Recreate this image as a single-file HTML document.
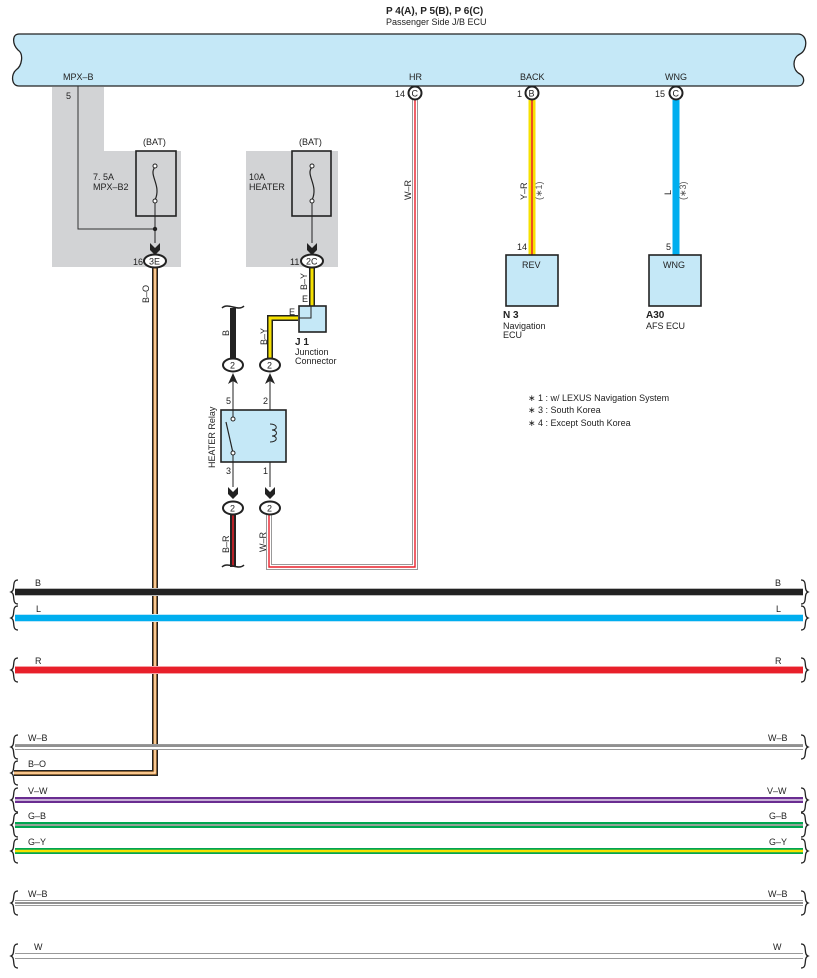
<!DOCTYPE html>
<html><head><meta charset="utf-8"><style>
html,body{margin:0;padding:0;background:#fff;}
svg{display:block;font-family:"Liberation Sans",sans-serif;}
text{font-size:9px;fill:#222;}
</style></head><body>
<svg width="817" height="978" viewBox="0 0 817 978" xmlns="http://www.w3.org/2000/svg">
<defs>
<marker id="a" viewBox="0 0 10 10" refX="5" refY="10" markerWidth="10" markerHeight="10" orient="auto"><path d="M0,0 L5,4 L10,0 L10,6 L5,10 L0,6Z" fill="#222"/></marker>
</defs>
<!-- title -->
<text x="386" y="14" style="font-weight:bold;font-size:10px">P 4(A), P 5(B), P 6(C)</text>
<text x="386" y="25">Passenger Side J/B ECU</text>
<!-- top bar -->
<path d="M19,34 L798,34 C808,34 808,50 800,54 C792,58 792,70 800,74 C806,78 804,86 798,86 L19,86 C11,86 11,74 16,70 C22,66 24,54 18,50 C12,44 12,34 19,34Z" fill="#c5e8f7" stroke="#222" stroke-width="1.3"/>
<text x="63" y="80">MPX–B</text>
<text x="409" y="80">HR</text>
<text x="520" y="80">BACK</text>
<text x="665" y="80">WNG</text>
<!-- gray regions -->
<path d="M52,87 L104,87 L104,151 L181,151 L181,267 L52,267Z" fill="#d2d3d5"/>
<rect x="246" y="151" width="92" height="116" fill="#d2d3d5"/>
<text x="66" y="99">5</text>
<!-- fuses -->
<text x="143" y="145">(BAT)</text>
<rect x="136" y="151" width="40" height="65" fill="none" stroke="#222" stroke-width="1.6"/>
<path d="M155,167 C148,175 162,185 155,200" fill="none" stroke="#222" stroke-width="1.2"/>
<circle cx="155" cy="166" r="2" fill="#fff" stroke="#222"/><circle cx="155" cy="201" r="2" fill="#fff" stroke="#222"/>
<text x="93" y="180">7. 5A</text><text x="93" y="190">MPX–B2</text>
<text x="299" y="145">(BAT)</text>
<rect x="292" y="151" width="39" height="65" fill="none" stroke="#222" stroke-width="1.6"/>
<path d="M312,167 C305,175 319,185 312,200" fill="none" stroke="#222" stroke-width="1.2"/>
<circle cx="312" cy="166" r="2" fill="#fff" stroke="#222"/><circle cx="312" cy="201" r="2" fill="#fff" stroke="#222"/>
<text x="249" y="180">10A</text><text x="249" y="190">HEATER</text>
<path d="M78,86 L78,229 L155,229" fill="none" stroke="#333" stroke-width="1"/>
<circle cx="155" cy="229" r="2.2" fill="#222"/>
<line x1="155" y1="203" x2="155" y2="243" stroke="#222" stroke-width="1"/>
<path d="M150,243 L155,248 L160,243 L160,250 L155,255 L150,250Z" fill="#222"/>
<line x1="312" y1="203" x2="312" y2="243" stroke="#222" stroke-width="1"/>
<path d="M307,243 L312,248 L317,243 L317,250 L312,255 L307,250Z" fill="#222"/>
<!-- B-O wire -->
<path d="M155,268 L155,773 L14,773" fill="none" stroke="#222" stroke-width="6"/>
<path d="M155,268 L155,773 L14,773" fill="none" stroke="#f7a54a" stroke-width="3"/>
<path d="M155,268 L155,773 L14,773" fill="none" stroke="#fff" stroke-width="0.8"/>
<ellipse cx="155" cy="261" rx="11" ry="6.5" fill="#fff" stroke="#222" stroke-width="2"/>
<text x="149" y="264.5">3E</text><text x="133" y="265">16</text>
<text transform="translate(149,303) rotate(-90)">B–O</text>
<!-- B-Y wire -->
<path d="M312,268 L312,310 M298,318 L270,318 L270,358" fill="none" stroke="#222" stroke-width="6"/>
<path d="M312,268 L312,310 M298,318 L270,318 L270,358" fill="none" stroke="#f6e100" stroke-width="3"/>
<ellipse cx="312" cy="261" rx="11" ry="6.5" fill="#fff" stroke="#222" stroke-width="2"/>
<text x="306" y="264.5">2C</text><text x="290" y="265">11</text>
<text transform="translate(307,290) rotate(-90)">B–Y</text>
<text x="302" y="302">E</text><text x="289" y="315">E</text>
<text transform="translate(267,345) rotate(-90)">B–Y</text>
<rect x="299" y="306" width="27" height="26" fill="#c5e8f7" stroke="#222" stroke-width="1.6"/>
<path d="M299,318 L311,318 L311,306" fill="none" stroke="#222" stroke-width="1"/>
<text x="295" y="345" style="font-weight:bold;font-size:10px">J 1</text>
<text x="295" y="355">Junction</text><text x="295" y="364">Connector</text>
<!-- B thick -->
<line x1="233" y1="308" x2="233" y2="358" stroke="#222" stroke-width="6"/>
<path d="M222,308 C228,302 238,312 244,306" fill="none" stroke="#222" stroke-width="1.5"/>
<text transform="translate(229,336) rotate(-90)">B</text>
<ellipse cx="233" cy="365" rx="10" ry="6.5" fill="#fff" stroke="#222" stroke-width="2"/><text x="230" y="368.5">2</text>
<ellipse cx="270" cy="365" rx="10" ry="6.5" fill="#fff" stroke="#222" stroke-width="2"/><text x="267" y="368.5">2</text>
<path d="M228,384 L233,373 L238,384 L233,381Z M265,384 L270,373 L275,384 L270,381Z" fill="#222"/>
<line x1="233" y1="380" x2="233" y2="487" stroke="#222"/><line x1="270" y1="380" x2="270" y2="487" stroke="#222"/>
<!-- relay -->
<rect x="221" y="410" width="65" height="52" fill="#c5e8f7" stroke="#222" stroke-width="1.6"/>
<line x1="233" y1="410" x2="233" y2="419" stroke="#222"/><line x1="233" y1="453" x2="233" y2="462" stroke="#222"/>
<rect x="231" y="418" width="0" height="0"/>
<line x1="226" y1="422" x2="233" y2="453" stroke="#222" stroke-width="1.2"/>
<circle cx="233" cy="419" r="2" fill="#fff" stroke="#222"/><circle cx="233" cy="453" r="2" fill="#fff" stroke="#222"/>
<path d="M270,424 C278,424 278,430 272,430 C278,430 278,436 272,436 C278,436 278,442 270,442" fill="#c5e8f7" stroke="#222"/>
<text x="226" y="404">5</text><text x="263" y="404">2</text><text x="226" y="474">3</text><text x="263" y="474">1</text>
<text transform="translate(215,468) rotate(-90)">HEATER Relay</text>
<path d="M228,487 L233,492 L238,487 L238,494 L233,499 L228,494Z M265,487 L270,492 L275,487 L275,494 L270,499 L265,494Z" fill="#222"/>
<!-- W-R wire -->
<path d="M415,100 L415,567 L269,567 L269,515" fill="none" stroke="#999" stroke-width="6"/>
<path d="M415,100 L415,567 L269,567 L269,515" fill="none" stroke="#fff" stroke-width="4"/>
<path d="M415,100 L415,567 L269,567 L269,515" fill="none" stroke="#e8202a" stroke-width="1.4"/>
<text transform="translate(411,200) rotate(-90)">W–R</text>
<text transform="translate(266,552) rotate(-90)">W–R</text>
<!-- B-R -->
<line x1="233" y1="515" x2="233" y2="567" stroke="#222" stroke-width="6"/>
<line x1="233" y1="515" x2="233" y2="567" stroke="#e8202a" stroke-width="1.5"/>
<path d="M222,567 C228,561 238,571 244,565" fill="none" stroke="#222" stroke-width="1.5"/>
<text transform="translate(229,553) rotate(-90)">B–R</text>
<ellipse cx="233" cy="508" rx="10" ry="6.5" fill="#fff" stroke="#222" stroke-width="2"/><text x="230" y="511.5">2</text>
<ellipse cx="270" cy="508" rx="10" ry="6.5" fill="#fff" stroke="#222" stroke-width="2"/><text x="267" y="511.5">2</text>
<!-- HR connector -->
<circle cx="415" cy="93" r="6.5" fill="#fff" stroke="#222" stroke-width="2"/><text x="411.5" y="96.5">C</text><text x="395" y="97">14</text>
<!-- BACK -->
<line x1="532" y1="100" x2="532" y2="255" stroke="#f6e100" stroke-width="7"/>
<line x1="532" y1="100" x2="532" y2="255" stroke="#e8202a" stroke-width="1.5"/>
<circle cx="532" cy="93" r="6.5" fill="#fff" stroke="#222" stroke-width="2"/><text x="528.5" y="96.5">B</text><text x="517" y="97">1</text>
<text transform="translate(527,200) rotate(-90)">Y–R</text>
<text transform="translate(542,200) rotate(-90)" style="fill:#555">(∗1)</text>
<text x="517" y="250">14</text>
<rect x="506" y="255" width="52" height="51" fill="#c5e8f7" stroke="#222" stroke-width="1.6"/>
<text x="522" y="268">REV</text>
<text x="503" y="318" style="font-weight:bold;font-size:10px">N 3</text>
<text x="503" y="329">Navigation</text><text x="503" y="338">ECU</text>
<!-- WNG -->
<line x1="676" y1="100" x2="676" y2="255" stroke="#00aeef" stroke-width="7"/>
<circle cx="676" cy="93" r="6.5" fill="#fff" stroke="#222" stroke-width="2"/><text x="672.5" y="96.5">C</text><text x="655" y="97">15</text>
<text transform="translate(671,195) rotate(-90)">L</text>
<text transform="translate(686,200) rotate(-90)" style="fill:#555">(∗3)</text>
<text x="666" y="250">5</text>
<rect x="649" y="255" width="52" height="51" fill="#c5e8f7" stroke="#222" stroke-width="1.6"/>
<text x="663" y="268">WNG</text>
<text x="646" y="318" style="font-weight:bold;font-size:10px">A30</text>
<text x="646" y="329">AFS ECU</text>
<!-- notes -->
<text x="528" y="401">∗ 1 : w/ LEXUS Navigation System</text>
<text x="528" y="413">∗ 3 : South Korea</text>
<text x="528" y="426">∗ 4 : Except South Korea</text>
<!-- horizontal wires -->
<g fill="none">
<line x1="15" y1="592" x2="803" y2="592" stroke="#bbb" stroke-width="8"/><line x1="15" y1="592" x2="803" y2="592" stroke="#222" stroke-width="6"/>
<line x1="15" y1="618" x2="803" y2="618" stroke="#bde6f8" stroke-width="8"/><line x1="15" y1="618" x2="803" y2="618" stroke="#00aeef" stroke-width="6"/>
<line x1="15" y1="670" x2="803" y2="670" stroke="#f5a0a4" stroke-width="8"/><line x1="15" y1="670" x2="803" y2="670" stroke="#e8202a" stroke-width="6"/>
<line x1="15" y1="747" x2="803" y2="747" stroke="#999" stroke-width="6"/><line x1="15" y1="747" x2="803" y2="747" stroke="#fff" stroke-width="4"/><line x1="15" y1="747" x2="803" y2="747" stroke="#222" stroke-width="1" transform="translate(0,-1)"/>
<line x1="15" y1="800" x2="803" y2="800" stroke="#6a2d91" stroke-width="6"/><line x1="15" y1="800" x2="803" y2="800" stroke="#fff" stroke-width="1.2"/>
<line x1="15" y1="825" x2="803" y2="825" stroke="#00a651" stroke-width="6"/><line x1="15" y1="825" x2="803" y2="825" stroke="#d8f0e0" stroke-width="2"/><line x1="15" y1="825" x2="803" y2="825" stroke="#222" stroke-width="0.8"/>
<line x1="15" y1="851" x2="803" y2="851" stroke="#00a651" stroke-width="6"/><line x1="15" y1="851" x2="803" y2="851" stroke="#f6e100" stroke-width="2.5"/>
<line x1="15" y1="903" x2="803" y2="903" stroke="#999" stroke-width="6"/><line x1="15" y1="903" x2="803" y2="903" stroke="#fff" stroke-width="4"/><line x1="15" y1="903" x2="803" y2="903" stroke="#222" stroke-width="1"/>
<line x1="15" y1="956" x2="803" y2="956" stroke="#999" stroke-width="6"/><line x1="15" y1="956" x2="803" y2="956" stroke="#fff" stroke-width="4"/>
</g>
<g fill="none" stroke="#222" stroke-width="1.3">
<path d="M18,580 C11,580 16,590 11,592 C16,594 11,604 18,604 M18,606 C11,606 16,616 11,618 C16,620 11,630 18,630 M18,658 C11,658 16,668 11,670 C16,672 11,682 18,682 M18,735 C11,735 16,745 11,747 C16,749 11,759 18,759 M18,761 C11,761 16,771 11,773 C16,775 11,785 18,785 M18,788 C11,788 16,798 11,800 C16,802 11,812 18,812 M18,813 C11,813 16,823 11,825 C16,827 11,837 18,837 M18,839 C11,839 16,849 11,851 C16,853 11,863 18,863 M18,891 C11,891 16,901 11,903 C16,905 11,915 18,915 M18,944 C11,944 16,954 11,956 C16,958 11,968 18,968"/>
<path d="M801,580 C808,580 803,590 808,592 C803,594 808,604 801,604 M801,606 C808,606 803,616 808,618 C803,620 808,630 801,630 M801,658 C808,658 803,668 808,670 C803,672 808,682 801,682 M801,735 C808,735 803,745 808,747 C803,749 808,759 801,759 M801,788 C808,788 803,798 808,800 C803,802 808,812 801,812 M801,813 C808,813 803,823 808,825 C803,827 808,837 801,837 M801,839 C808,839 803,849 808,851 C803,853 808,863 801,863 M801,891 C808,891 803,901 808,903 C803,905 808,915 801,915 M801,944 C808,944 803,954 808,956 C803,958 808,968 801,968"/>
</g>
<text x="35" y="586">B</text><text x="775" y="586">B</text>
<text x="36" y="612">L</text><text x="776" y="612">L</text>
<text x="35" y="664">R</text><text x="775" y="664">R</text>
<text x="28" y="741">W–B</text><text x="768" y="741">W–B</text>
<text x="28" y="767">B–O</text>
<text x="28" y="794">V–W</text><text x="767" y="794">V–W</text>
<text x="28" y="819">G–B</text><text x="769" y="819">G–B</text>
<text x="28" y="845">G–Y</text><text x="769" y="845">G–Y</text>
<text x="28" y="897">W–B</text><text x="768" y="897">W–B</text>
<text x="34" y="950">W</text><text x="773" y="950">W</text>
</svg>
</body></html>
